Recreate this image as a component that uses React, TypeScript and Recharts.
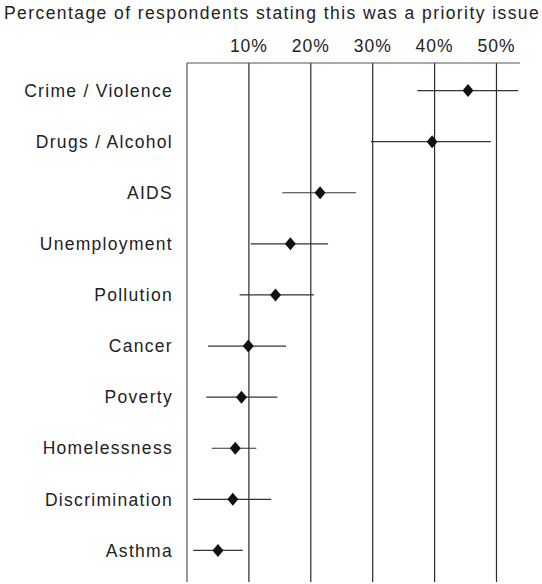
import React from "react";
import { ScatterChart, Scatter, XAxis, YAxis, CartesianGrid, ErrorBar } from "recharts";

const categories = [
  "Crime / Violence",
  "Drugs / Alcohol",
  "AIDS",
  "Unemployment",
  "Pollution",
  "Cancer",
  "Poverty",
  "Homelessness",
  "Discrimination",
  "Asthma",
];
const values = [45.4, 39.6, 21.5, 16.7, 14.3, 9.9, 8.8, 7.8, 7.4, 5.0];
const lows = [37.2, 29.7, 15.4, 10.3, 8.5, 3.4, 3.1, 4.0, 1.0, 1.0];
const highs = [53.5, 49.1, 27.3, 22.8, 20.5, 16.0, 14.6, 11.2, 13.6, 9.0];
const xTicks = [10, 20, 30, 40, 50];
const gridValues = [10, 20, 30, 40, 50];
const title = "Percentage of respondents stating this was a priority issue";

const data = categories.map((name, i) => ({
  name,
  value: values[i],
  err: [values[i] - lows[i], highs[i] - values[i]],
}));

const FONT = "'Liberation Sans', Arial, Helvetica, sans-serif";

const Diamond = (props: any) => {
  const { cx, cy } = props;
  if (cx == null || cy == null) return null;
  const w = 5.5;
  const h = 6.5;
  return (
    <polygon
      points={`${cx},${cy - h} ${cx + w},${cy} ${cx},${cy + h} ${cx - w},${cy}`}
      fill="#111"
    />
  );
};

export default function App() {
  return (
    <div style={{ position: "absolute", left: 0, top: 0, width: 542, height: 584 }}>
      <div
        style={{
          position: "absolute",
          left: 4,
          top: 0,
          fontFamily: FONT,
          fontSize: 17.5,
          letterSpacing: "1.42px",
          color: "#222",
          whiteSpace: "nowrap",
          lineHeight: "26px",
        }}
      >
        {title}
      </div>
      <ScatterChart
        width={542}
        height={584}
        margin={{ top: 33, right: 22, bottom: 2, left: 0 }}
      >
        <CartesianGrid
          horizontal={false}
          verticalValues={gridValues}
          stroke="#2a2a2a"
          strokeWidth={1.2}
        />
        <XAxis
          type="number"
          dataKey="value"
          orientation="top"
          domain={[0, 53.8]}
          ticks={xTicks}
          tickFormatter={(v: number) => `${v}%`}
          height={30}
          tickLine={false}
          tickSize={0}
          tickMargin={11}
          axisLine={{ stroke: "#555", strokeWidth: 1.2 }}
          tick={{ fill: "#222", fontSize: 17.5, fontFamily: FONT, style: { letterSpacing: "1px" } }}
          allowDataOverflow
        />
        <YAxis
          type="category"
          dataKey="name"
          reversed
          width={187}
          tickLine={false}
          tickSize={0}
          tickMargin={14}
          padding={{ top: 2, bottom: 6 }}
          axisLine={{ stroke: "#555", strokeWidth: 1.2 }}
          tick={{ fill: "#222", fontSize: 17.5, fontFamily: FONT, style: { letterSpacing: "1.3px" } }}
          interval={0}
        />
        <Scatter data={data} shape={<Diamond />} isAnimationActive={false}>
          <ErrorBar dataKey="err" direction="x" width={0} stroke="#333" strokeWidth={1.2} />
        </Scatter>
      </ScatterChart>
    </div>
  );
}
